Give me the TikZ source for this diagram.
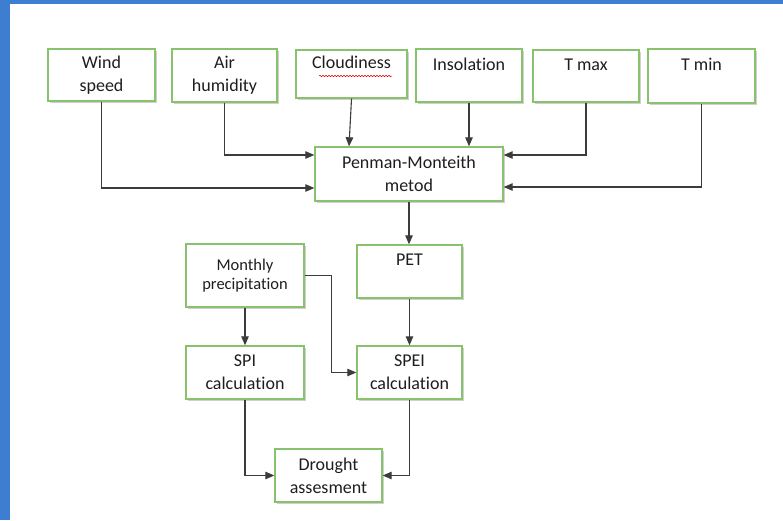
\documentclass[tikz,border=0pt]{standalone}
\usepackage{fontspec}
\setmainfont{Carlito}[RawFeature={-liga;-clig}]
\usetikzlibrary{arrows.meta,shadows,decorations.pathmorphing}
\definecolor{frameblue}{RGB}{62,126,208}
\definecolor{boxgreen}{RGB}{137,194,108}
\definecolor{linegray}{RGB}{60,60,60}
\definecolor{textgray}{RGB}{30,30,30}
\tikzset{
  stepnode/.style={draw=boxgreen, line width=1.4pt, fill=white, inner sep=0pt,
    align=center, text=textgray, font=\fontsize{18}{23}\selectfont,
    drop shadow={shadow xshift=1.5pt, shadow yshift=-1.5pt, opacity=0.3, fill=black!60}},
  flow/.style={draw=linegray, line width=1.1pt, -{Triangle[length=9pt,width=7.5pt]}}
}
\begin{document}
\begin{tikzpicture}[x=1pt,y=-1pt]
      \useasboundingbox (0,0) rectangle (783,520);
      \fill[white] (0,0) rectangle (783,520);
      \fill[frameblue] (0,0) rectangle (783,4);
      \fill[frameblue] (0,0) rectangle (10,520);
      \path
        (101.5,75) node[stepnode, minimum width=107pt, minimum height=52pt] (wind){Wind\\speed}
        (224.5,75.5) node[stepnode, minimum width=105pt, minimum height=53pt] (air){Air\\humidity}
        (351.5,74) node[stepnode, minimum width=111pt, minimum height=48pt] (cloud){Cloudiness\\\mbox{}}
        (469,75.5) node[stepnode, minimum width=106pt, minimum height=53pt] (insol){Insolation\\\mbox{}}
        (586,76) node[stepnode, minimum width=106pt, minimum height=52pt] (tmax){T max\\\mbox{}}
        (701.5,76) node[stepnode, minimum width=107pt, minimum height=54pt] (tmin){T min\\\mbox{}}
        (409,174) node[stepnode, minimum width=188pt, minimum height=54pt] (pm){Penman-Monteith\\metod}
        (245,275.5) node[stepnode, minimum width=118pt, minimum height=63pt,
          font=\fontsize{16.5}{19.5}\selectfont] (mp){Monthly\\precipitation}
        (409.5,271.5) node[stepnode, minimum width=105pt, minimum height=53pt] (pet){PET\\\mbox{}}
        (245,372.5) node[stepnode, minimum width=118pt, minimum height=53pt] (spi){SPI\\calculation}
        (409.5,372.5) node[stepnode, minimum width=105pt, minimum height=53pt] (spei){SPEI\\calculation}
        (328.5,475.5) node[stepnode, minimum width=107pt, minimum height=53pt] (dr){Drought\\assesment};
      \draw[red!85!black, line width=0.5pt, decorate,
        decoration={snake, amplitude=0.7pt, segment length=3pt}] (319,76) -- (392,76);
      \begin{scope}[flow]
        \draw (wind.south) |- ([yshift=-14pt]pm.west);
        \draw (air.south) |- ([yshift=19pt]pm.west);
        \draw (cloud.south) -- ([xshift=-60pt]pm.north);
        \draw (insol.south) -- (insol.south |- pm.north);
        \draw (tmax.south) |- ([yshift=19pt]pm.east);
        \draw (tmin.south) |- ([yshift=-13pt]pm.east);
        \draw (pm.south) -- (pm.south |- pet.north);
        \draw (mp.south) -- (spi.north);
        \draw (mp.east) -- ++(27,0) |- (spei.west);
        \draw (pet.south) -- (spei.north);
        \draw (spi.south) |- (dr.west);
        \draw (spei.south) |- (dr.east);
      \end{scope}
    \end{tikzpicture}
\end{document}
